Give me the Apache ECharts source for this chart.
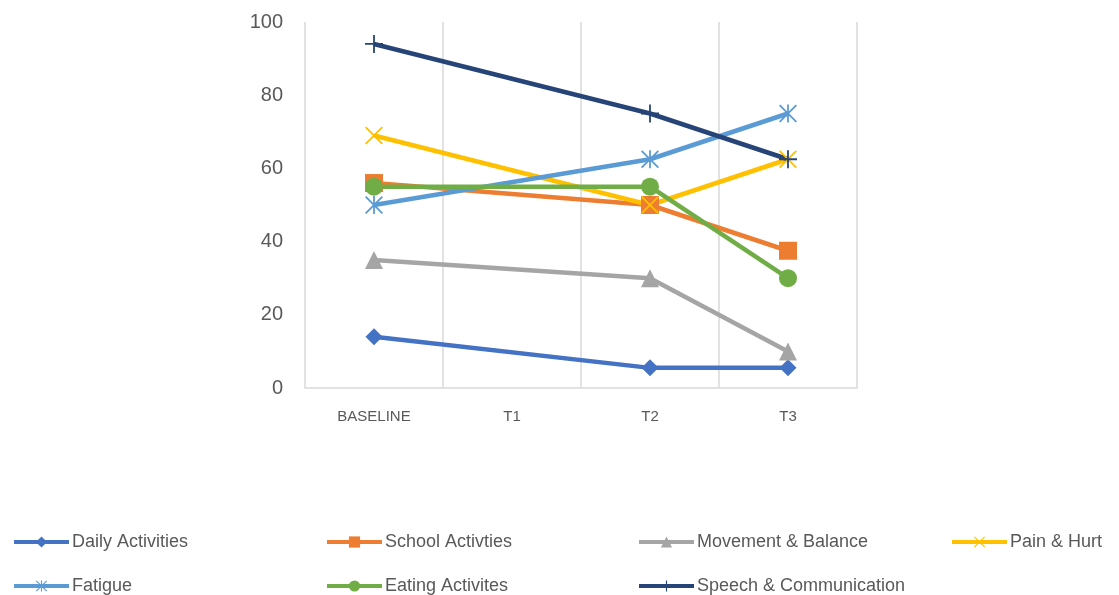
<!DOCTYPE html>
<html><head><meta charset="utf-8">
<script src="https://cdn.jsdelivr.net/npm/echarts@6/dist/echarts.min.js"></script>
<style>html,body{margin:0;padding:0;background:#fff}#c{width:1119px;height:595px}</style>
</head><body><div id="c"></div>
<script>
const categories = ['BASELINE', 'T1', 'T2', 'T3'];
const dailyActivities = [14, null, 5.5, 5.5];
const schoolActivities = [56, null, 50, 37.5];
const movementBalance = [35, null, 30, 10];
const painHurt = [69, null, 50, 62.5];
const fatigue = [50, null, 62.5, 75];
const eatingActivities = [55, null, 55, 30];
const speechCommunication = [94, null, 75, 62.5];
const seriesNames = ['Daily Activities', 'School Activties', 'Movement & Balance', 'Pain & Hurt', 'Fatigue', 'Eating Activites', 'Speech & Communication'];
const yTicks = [0, 20, 40, 60, 80, 100];

const PLUS = 'path://M9,0H11V9H20V11H11V20H9V11H0V9H9Z';
const XMARK = 'path://M0,1.4L1.4,0L10,8.6L18.6,0L20,1.4L11.4,10L20,18.6L18.6,20L10,11.4L1.4,20L0,18.6L8.6,10Z';
const STAR = 'path://M0,1.4L1.4,0L10,8.6L18.6,0L20,1.4L11.4,10L20,18.6L18.6,20L10,11.4L1.4,20L0,18.6L8.6,10Z M9,0H11V20H9Z';

const styles = [
  {data: dailyActivities, color: '#4472C4', symbol: 'diamond', size: 17, w: 4.5},
  {data: schoolActivities, color: '#ED7D31', symbol: 'rect', size: 18, w: 4.5},
  {data: movementBalance, color: '#A5A5A5', symbol: 'triangle', size: 18, w: 4.5},
  {data: painHurt, color: '#FFC000', symbol: XMARK, size: 18, w: 4.5},
  {data: fatigue, color: '#5B9BD5', symbol: STAR, size: 18, w: 4.5},
  {data: eatingActivities, color: '#70AD47', symbol: 'circle', size: 18, w: 4.5},
  {data: speechCommunication, color: '#264478', symbol: PLUS, size: 18, w: 4.5}
];

const legendPos = [[12,533],[325,533],[637,533],[950,533],[12,577],[325,577],[637,577]];
const font = 'Liberation Sans';

const chart = echarts.init(document.getElementById('c'), null, {renderer: 'canvas'});
chart.setOption({
  animation: false,
  textStyle: {fontFamily: font},
  grid: {left: 305, right: 262, top: 22, bottom: 207},
  legend: seriesNames.map((n, i) => ({
    data: [n], left: legendPos[i][0], top: legendPos[i][1], padding: 0,
    itemWidth: 55, itemHeight: 14, itemGap: 0,
    lineStyle: {width: 4},
    textStyle: {fontSize: 18, color: '#595959', fontFamily: font, padding: [0,0,0,-2]}
  })),
  xAxis: {
    type: 'category', data: categories, boundaryGap: true,
    axisLine: {show: true, lineStyle: {color: '#D9D9D9', width: 1.5}},
    axisTick: {show: false},
    splitLine: {show: true, lineStyle: {color: '#D9D9D9', width: 1.5}},
    axisLabel: {color: '#595959', fontSize: 15, margin: 21, fontFamily: font}
  },
  yAxis: {
    type: 'value', min: yTicks[0], max: yTicks[yTicks.length-1], interval: 20,
    axisLine: {show: false}, axisTick: {show: false}, splitLine: {show: false},
    axisLabel: {color: '#595959', fontSize: 20, margin: 22, fontFamily: font}
  },
  series: styles.map((s, i) => ({
    name: seriesNames[i], type: 'line', data: s.data, connectNulls: true,
    symbol: s.symbol, symbolSize: s.size, showAllSymbol: true,
    itemStyle: {color: s.color, borderWidth: 0},
    lineStyle: {color: s.color, width: s.w},
    emphasis: {disabled: true}
  }))
});
</script></body></html>
